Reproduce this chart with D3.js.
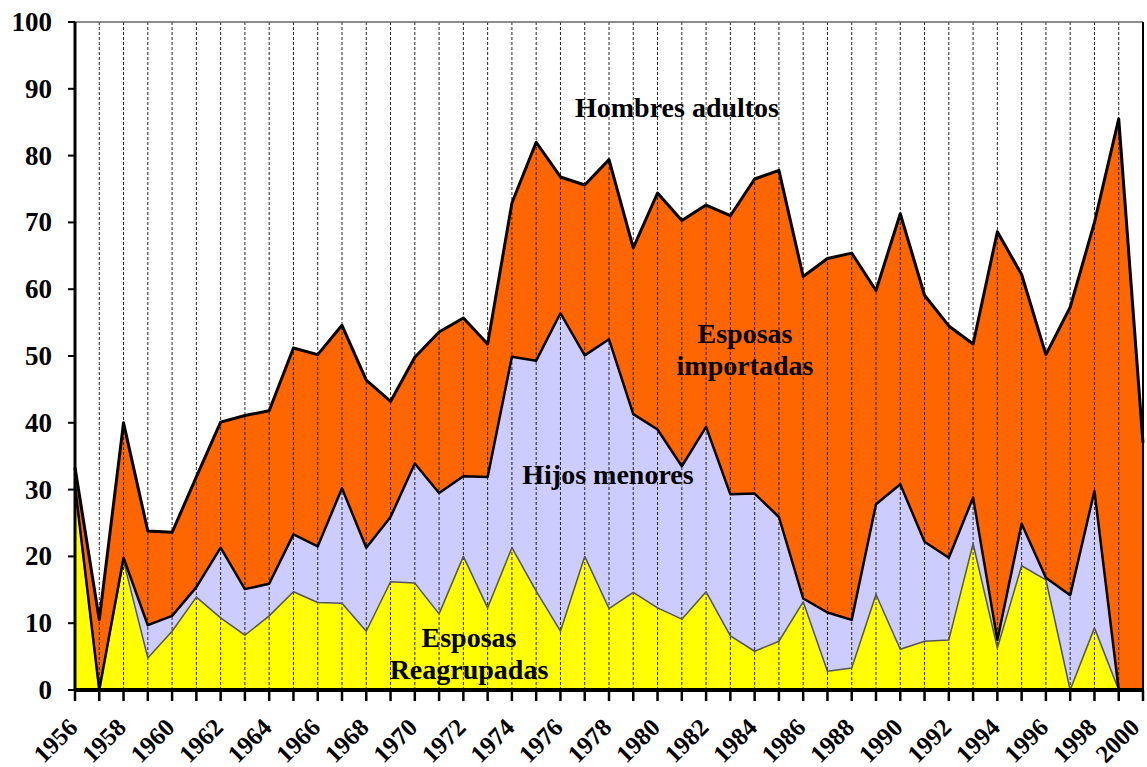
<!DOCTYPE html>
<html>
<head>
<meta charset="utf-8">
<script src="https://cdn.jsdelivr.net/npm/d3@7"></script>
<style>
  body { margin: 0; background: #fff; }
  text { font-family: "Liberation Serif", "Times New Roman", serif; font-weight: bold; }
</style>
</head>
<body>
<div id="chart-area"></div>
<script>
// years 1956..2000
const years = d3.range(1956, 2001)

// values (percent of each year's arrivals)
const esposasReagrupadas = [30.5, 0, 19.3, 4.8, 8.8, 13.9, 10.8, 8.2, 11.1, 14.7,
  13.1, 13.0, 8.8, 16.2, 16.0, 11.4, 20.0, 12.3, 21.3, 14.8,
  8.8, 20.0, 12.2, 14.6, 12.3, 10.6, 14.7, 8.1, 5.8, 7.3,
  13.2, 2.8, 3.3, 14.3, 6.1, 7.3, 7.5, 21.9, 6.3, 18.6,
  16.5, 0, 9.3, 0, 0]
const hijosMenores = [0, 0, 0.5, 4.9, 2.3, 1.5, 10.5, 6.9, 4.8, 8.6,
  8.4, 17.2, 12.5, 9.7, 17.9, 18.1, 12.0, 19.6, 28.6, 34.5,
  47.6, 30.1, 40.3, 26.7, 26.7, 22.9, 24.7, 21.2, 23.6, 18.6,
  0.5, 8.8, 7.2, 13.5, 24.7, 14.9, 12.3, 6.9, 1.2, 6.3,
  0.3, 14.2, 20.5, 0, 0]
const esposasImportadas = [2.8, 10.5, 20.2, 14.1, 12.5, 16.5, 18.8, 26.0, 25.9, 27.9,
  28.7, 24.4, 25.1, 17.3, 15.9, 24.1, 23.7, 19.9, 23.0, 32.7,
  20.4, 25.5, 26.9, 24.9, 35.4, 36.8, 33.2, 41.7, 47.1, 51.9,
  48.2, 53.0, 54.9, 32.0, 40.5, 36.9, 34.7, 23.0, 61.1, 37.3,
  33.4, 43.1, 40.2, 85.5, 37.0]

const yTicks = [0, 10, 20, 30, 40, 50, 60, 70, 80, 90, 100]
const xLabelYears = d3.range(1956, 2001, 2)

const seriesKeys = ['reagrupadas', 'hijos', 'importadas']
const fills = {reagrupadas: '#ffff00', hijos: '#ccccff', importadas: '#ff6600'}
const strokes = {reagrupadas: '#555', hijos: '#000', importadas: '#000'}
const strokeW = {reagrupadas: 1.5, hijos: 2.5, importadas: 3}

const labels = [
  {lines: ['Hombres adultos'], x: 677, y: 117},
  {lines: ['Esposas', 'importadas'], x: 745, y: 343},
  {lines: ['Hijos menores'], x: 608, y: 484},
  {lines: ['Esposas', 'Reagrupadas'], x: 469, y: 647}
]

const data = years.map((yr, i) => ({
  year: yr,
  reagrupadas: esposasReagrupadas[i],
  hijos: hijosMenores[i],
  importadas: esposasImportadas[i]
}))

const W = 1147, H = 767
const pLeft = 75, pRight = 1143, pTop = 22, pBottom = 690

const svg = d3.select('#chart-area').append('svg')
  .attr('width', W)
  .attr('height', H)

const x = d3.scaleLinear().domain([1956, 2000]).range([pLeft, pRight])
const y = d3.scaleLinear().domain([0, 100]).range([pBottom, pTop])

const stacked = d3.stack().keys(seriesKeys)(data)

const area = d3.area()
  .x(d => x(d.data.year))
  .y0(d => y(d[0]))
  .y1(d => y(d[1]))

const topLine = d3.line()
  .x(d => x(d.data.year))
  .y(d => y(d[1]))

// areas
svg.append('g').selectAll('path').data(stacked).enter().append('path')
  .attr('d', area)
  .attr('fill', d => fills[d.key])

// gridlines on top of fills
svg.append('g').selectAll('line').data(years.slice(1, -1)).enter().append('line')
  .attr('x1', d => x(d)).attr('x2', d => x(d))
  .attr('y1', pTop).attr('y2', pBottom)
  .attr('stroke', '#222')
  .attr('stroke-width', 1)
  .attr('stroke-dasharray', '3,2')

// boundary lines
svg.append('g').selectAll('path').data(stacked).enter().append('path')
  .attr('d', topLine)
  .attr('fill', 'none')
  .attr('stroke', d => strokes[d.key])
  .attr('stroke-width', d => strokeW[d.key])
  .attr('stroke-linejoin', 'round')

// frame
svg.append('line').attr('x1', pLeft).attr('x2', pRight).attr('y1', pTop).attr('y2', pTop)
  .attr('stroke', '#666').attr('stroke-width', 1.5)
svg.append('line').attr('x1', pRight).attr('x2', pRight).attr('y1', pTop).attr('y2', pBottom)
  .attr('stroke', '#000').attr('stroke-width', 2)

// y axis
const yAxis = svg.append('g')
yAxis.append('line').attr('x1', pLeft).attr('x2', pLeft).attr('y1', pTop).attr('y2', pBottom + 1)
  .attr('stroke', '#000').attr('stroke-width', 3)
yAxis.selectAll('.tick').data(yTicks).enter().append('line')
  .attr('x1', pLeft - 7).attr('x2', pLeft)
  .attr('y1', d => y(d)).attr('y2', d => y(d))
  .attr('stroke', '#000').attr('stroke-width', 2)
yAxis.selectAll('text').data(yTicks).enter().append('text')
  .attr('x', 52)
  .attr('y', d => y(d) + 9)
  .attr('text-anchor', 'end')
  .style('font-size', '27px')
  .text(d => d)

// x axis
const xAxis = svg.append('g')
xAxis.append('line').attr('x1', pLeft - 1).attr('x2', pRight + 1).attr('y1', pBottom).attr('y2', pBottom)
  .attr('stroke', '#000').attr('stroke-width', 4)
xAxis.selectAll('.tick').data(years).enter().append('line')
  .attr('x1', d => x(d)).attr('x2', d => x(d))
  .attr('y1', pBottom).attr('y2', pBottom + 11)
  .attr('stroke', '#000').attr('stroke-width', 2.5)
xAxis.selectAll('text').data(xLabelYears).enter().append('text')
  .attr('transform', d => `translate(${Math.min(x(d) + 4, W - 6)}, ${pBottom + 39}) rotate(-45)`)
  .attr('text-anchor', 'end')
  .style('font-size', '25px')
  .text(d => d)

// series labels
labels.forEach(l => {
  const t = svg.append('text')
    .attr('text-anchor', 'middle')
    .style('font-size', '28px')
  l.lines.forEach((s, i) => {
    t.append('tspan').attr('x', l.x).attr('y', l.y + i * 32).text(s)
  })
})
</script>
</body>
</html>
